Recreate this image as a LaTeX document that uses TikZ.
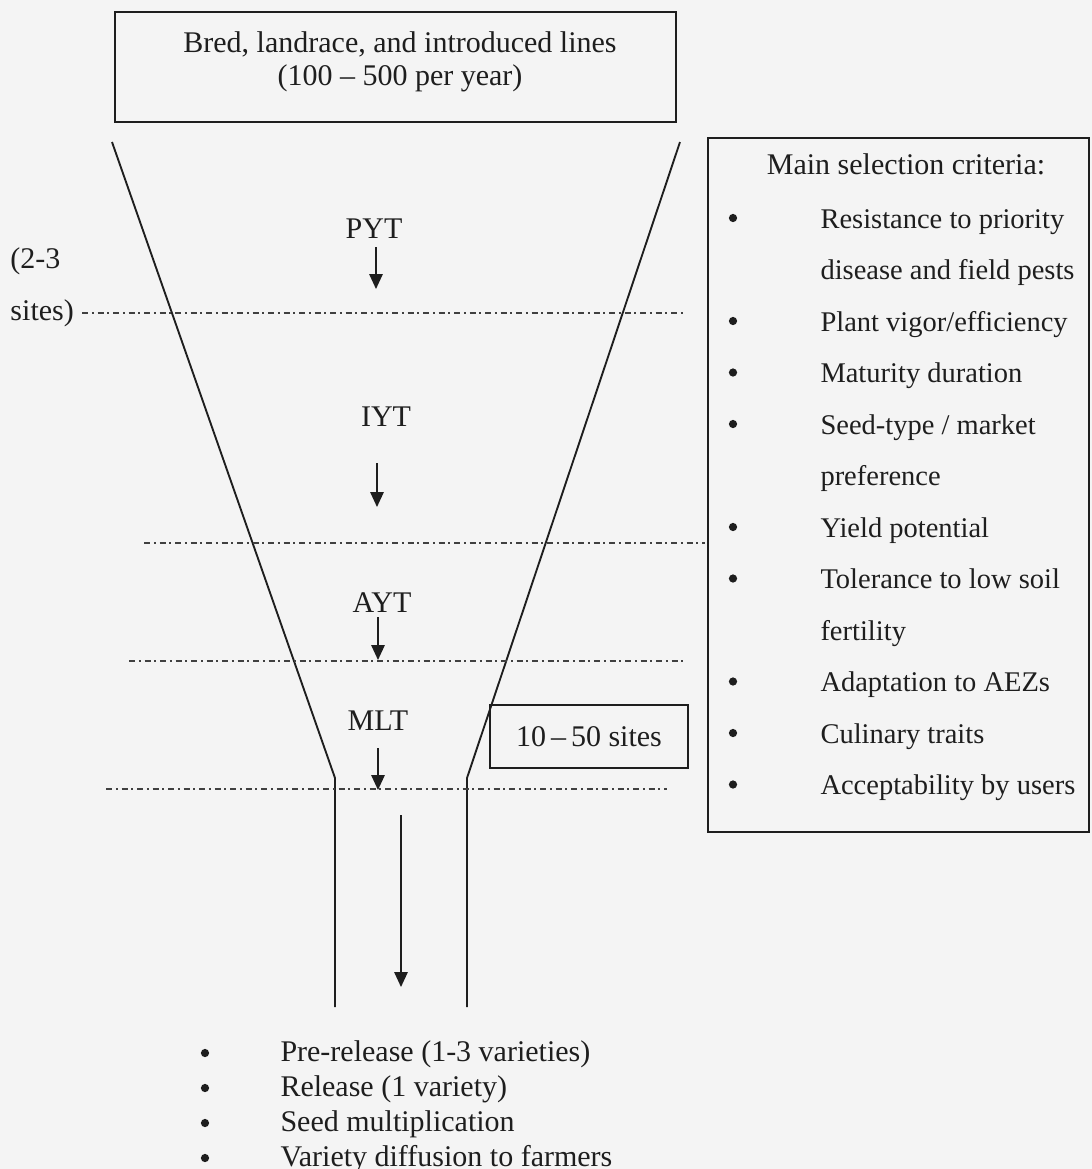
\documentclass[tikz,border=0pt]{standalone}
\usepackage{fontspec}
\setmainfont{Liberation Serif}
\usetikzlibrary{arrows.meta,positioning}
\definecolor{ink}{HTML}{1E1E1E}
\definecolor{paper}{HTML}{F4F4F4}

\begin{document}
\begin{tikzpicture}[x=0.4pt,y=-0.4pt,
	txt/.style={font=\fontsize{12}{13.2}\selectfont,text=ink,inner sep=0pt},
	crit/.style={txt,font=\fontsize{11.4}{13}\selectfont,anchor=base west},
	dot/.style={circle,fill=ink,inner sep=0pt,minimum size=3.3pt},
	frame/.style={draw=ink,line width=0.8pt},
	wall/.style={draw=ink,line width=0.75pt},
	trial/.style={draw=ink!85,line width=0.7pt,dash pattern=on 2.4pt off 1.5pt on 0.8pt off 1.5pt},
	flow/.style={draw=ink,line width=0.6pt,-{Triangle[width=5.4pt,length=6pt]}}]
	\fill[paper] (0,0) rectangle (1092,1169);
	\useasboundingbox (0,0) rectangle (1092,1169);

	\node[frame,minimum width=224.4pt,minimum height=44pt] (linesbox) at (395.5,67) {};
	\node[txt,align=center] (lines) at (400,62) {Bred, landrace, and introduced lines\\(100 -- 500 per year)};

	\coordinate (l-top) at (112,142);
	\coordinate (l-knee) at (335,778);
	\coordinate (l-end) at (335,1007);
	\coordinate (r-top) at (680,142);
	\coordinate (r-knee) at (467,778);
	\coordinate (r-end) at (467,1007);
	\draw[wall] (l-top) -- (l-knee) -- (l-end);
	\draw[wall] (r-top) -- (r-knee) -- (r-end);

	\foreach \n/\y/\a/\b in {1/313/82/684,2/543/144/705,3/661/129/687,4/789/106/667}{
		\coordinate (d\n-w) at (\a,\y);
		\coordinate (d\n-e) at (\b,\y);
		\draw[trial] (d\n-w) -- (d\n-e);
	}

	\node[txt,anchor=base west] (sites-a) at (10,268) {(2-3};
	\node[txt,anchor=base west] (sites-b) at (10,320) {sites)};

	\node[txt,anchor=base] (pyt) at (374,238) {PYT};
	\node[txt,anchor=base] (iyt) at (386,426) {IYT};
	\node[txt,anchor=base] (ayt) at (382,612) {AYT};
	\node[txt,anchor=base] (mlt) at (378,730) {MLT};
	\foreach \n/\x/\a/\b in {pyt/376/247/289,iyt/377/463/507,ayt/378/617/660,mlt/378/748/790,rel/401/815/987}{
		\coordinate (\n-s) at (\x,\a);
		\coordinate (\n-e) at (\x,\b);
		\draw[flow] (\n-s) -- (\n-e);
	}

	\node[frame,txt,minimum width=79.2pt,minimum height=25.2pt] (sitesbox) at (589,736.5) {10\,--\,50 sites};

	\node[frame,minimum width=152.4pt,minimum height=277.6pt] (critbox) at (898.5,485) {};
	\node[txt,anchor=base] (crithead) at (906,174) {Main selection criteria:};
	\foreach \i/\b/\t in {0/1/Resistance to priority,1/0/disease and field pests,2/1/{Plant vigor/efficiency},3/1/Maturity duration,4/1/{Seed-type / market},5/0/preference,6/1/Yield potential,7/1/Tolerance to low soil,8/0/fertility,9/1/Adaptation to AEZs,10/1/Culinary traits,11/1/Acceptability by users}{
		\node[crit] (crit-\i) at (820,228+51.5*\i) {\t};
		\ifnum\b=1 \node[dot] (dot-\i) at (733,218+51.5*\i) {};\fi
	}

	\foreach \i/\t in {0/Pre-release (1-3 varieties),1/Release (1 variety),2/Seed multiplication,3/Variety diffusion to farmers}{
		\node[txt,anchor=base west] (out-\i) at (280,1061+35*\i) {\t};
		\node[dot] (odot-\i) at (205,1053+35*\i) {};
	}
\end{tikzpicture}
\end{document}
